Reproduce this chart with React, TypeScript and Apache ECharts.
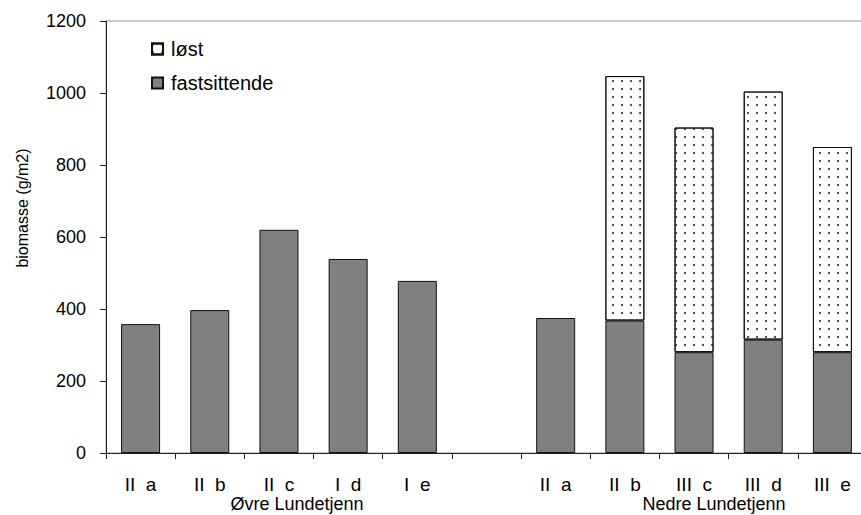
import React, { useEffect, useRef } from "react";
import * as echarts from "echarts";

const categories = ["II  a", "II  b", "II  c", "I  d", "I  e", "", "II  a", "II  b", "III  c", "III  d", "III  e"];
const fastsittende: (number | string)[] = [358, 397, 620, 539, 478, "-", 375, 368, 280, 315, 280];
const lost: (number | string)[] = ["-", "-", "-", "-", "-", "-", "-", 679, 624, 689, 570];
const seriesNames = ["løst", "fastsittende"];
const groupLabels = ["Øvre Lundetjenn", "Nedre Lundetjenn"];
const yAxisTitle = "biomasse (g/m2)";
const yMin = 0;
const yMax = 1200;
const yStep = 200;

const FONT = '"Liberation Sans", Arial, Helvetica, sans-serif';

export default function App() {
  const ref = useRef<HTMLDivElement>(null);
  useEffect(() => {
    document.body.style.margin = "0";
    if (!ref.current) return;
    const chart = echarts.init(ref.current, null, { renderer: "svg" });
    chart.setOption({
      animation: false,
      backgroundColor: "#fff",
      textStyle: { fontFamily: FONT, color: "#000" },
      grid: {
        left: 106,
        right: 3,
        top: 21,
        bottom: 62,
        show: true,
        borderColor: "#999",
        borderWidth: 1,
        backgroundColor: "transparent",
        containLabel: false,
        outerBoundsMode: "none",
      },
      legend: {
        orient: "vertical",
        left: 151,
        top: 39,
        padding: 0,
        itemWidth: 11,
        itemHeight: 11,
        itemGap: 14,
        icon: "rect",
        data: seriesNames,
        selectedMode: false,
        textStyle: { fontFamily: FONT, fontSize: 20, color: "#000", padding: [0, 0, 0, 3] },
      },
      xAxis: {
        type: "category",
        data: categories,
        boundaryGap: true,
        axisLine: { show: true, lineStyle: { color: "#222", width: 1 } },
        axisTick: { show: true, length: 6, inside: false, interval: 0, lineStyle: { color: "#222" } },
        axisLabel: { interval: 0, margin: 22, fontSize: 19, color: "#000", fontFamily: FONT },
        splitLine: { show: false },
      },
      yAxis: {
        type: "value",
        min: yMin,
        max: yMax,
        interval: yStep,
        axisLine: { show: true, lineStyle: { color: "#222", width: 1 } },
        axisTick: { show: true, length: 6, lineStyle: { color: "#222" } },
        axisLabel: {
          margin: 20,
          fontSize: 18,
          color: "#000",
          fontFamily: FONT,
          formatter: (v: number) => String(v),
        },
        splitLine: { show: false },
      },
      series: [
        {
          name: seriesNames[1],
          type: "bar",
          stack: "total",
          barWidth: 39,
          data: fastsittende,
          itemStyle: { color: "#808080", borderColor: "#111", borderWidth: 1 },
        },
        {
          name: seriesNames[0],
          type: "bar",
          stack: "total",
          barWidth: 39,
          data: lost,
          itemStyle: {
            color: "#ffffff",
            borderColor: "#111",
            borderWidth: 1,
            decal: {
              symbol: "circle",
              symbolSize: 1,
              color: "#333",
              backgroundColor: "#ffffff",
              dashArrayX: [1.6, 6.4],
              dashArrayY: [1.6, 6],
              rotation: 0,
            },
          },
        },
      ],
      graphic: [
        {
          type: "text",
          x: 22,
          y: 208,
          rotation: Math.PI / 2,
          style: { text: yAxisTitle, fontSize: 16, fontFamily: FONT, fill: "#000", align: "center", verticalAlign: "middle" },
        },
        {
          type: "text",
          x: 297,
          y: 495,
          style: { text: groupLabels[0], fontSize: 18, fontFamily: FONT, fill: "#000", align: "center", verticalAlign: "top" },
        },
        {
          type: "text",
          x: 714,
          y: 495,
          style: { text: groupLabels[1], fontSize: 18, fontFamily: FONT, fill: "#000", align: "center", verticalAlign: "top" },
        },
      ],
    });
    return () => chart.dispose();
  }, []);
  return (
    <div style={{ width: 861, height: 515, overflow: "hidden", position: "relative" }}>
      <div ref={ref} style={{ width: 870, height: 515 }} />
    </div>
  );
}
